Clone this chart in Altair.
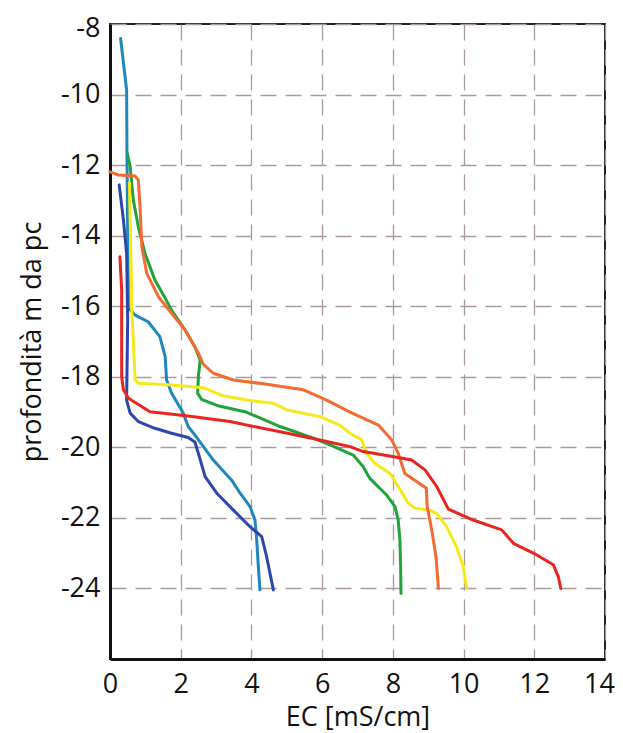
import altair as alt
import pandas as pd

# EC profiles: (EC [mS/cm], depth [m])
teal_x = [0.30, 0.47, 0.48, 0.52, 0.71, 1.08, 1.41, 1.56, 1.60, 1.74, 2.07, 2.21, 2.40, 2.92, 3.44, 3.68, 3.96, 4.10, 4.15, 4.19, 4.24]
teal_y = [-8.41, -9.87, -11.66, -16.05, -16.25, -16.44, -16.86, -17.43, -18.09, -18.46, -19.03, -19.41, -19.65, -20.36, -20.93, -21.30, -21.68, -22.06, -22.63, -23.29, -24.04]

blue_x = [0.26, 0.38, 0.47, 0.50, 0.47, 0.57, 0.80, 1.27, 1.74, 2.21, 2.40, 2.50, 2.69, 3.02, 3.49, 3.96, 4.29, 4.43, 4.62]
blue_y = [-12.56, -13.56, -14.50, -16.39, -18.66, -19.03, -19.27, -19.46, -19.60, -19.72, -19.85, -20.17, -20.83, -21.30, -21.78, -22.25, -22.53, -23.10, -24.04]

green_x = [0.49, 0.57, 0.66, 0.80, 0.99, 1.27, 1.55, 1.74, 2.12, 2.40, 2.55, 2.50, 2.48, 2.59, 3.08, 3.85, 4.81, 5.75, 6.22, 6.88, 7.16, 7.35, 7.82, 8.06, 8.15, 8.20, 8.22, 8.23]
green_y = [-11.67, -12.04, -12.99, -13.75, -14.50, -15.26, -15.75, -16.11, -16.67, -17.15, -17.52, -18.00, -18.47, -18.64, -18.83, -19.00, -19.41, -19.74, -19.93, -20.22, -20.55, -20.88, -21.35, -21.68, -22.06, -22.63, -23.38, -24.14]

yellow_x = [0.55, 0.57, 0.61, 0.61, 0.66, 0.71, 0.80, 1.74, 2.64, 3.20, 3.87, 4.62, 5.00, 5.94, 6.50, 6.79, 7.12, 7.26, 7.49, 7.92, 8.15, 8.44, 8.63, 9.05, 9.24, 9.52, 9.80, 9.99, 10.09]
yellow_y = [-12.50, -13.56, -15.45, -16.01, -16.96, -18.09, -18.18, -18.23, -18.31, -18.54, -18.66, -18.75, -18.94, -19.13, -19.37, -19.60, -19.79, -20.17, -20.45, -20.74, -21.11, -21.59, -21.73, -21.78, -21.87, -22.25, -22.82, -23.38, -24.00]

orange_x = [0.00, 0.24, 0.71, 0.80, 0.85, 0.90, 1.04, 1.37, 1.74, 2.12, 2.50, 2.64, 2.92, 3.49, 4.34, 5.47, 6.13, 6.79, 7.59, 7.97, 8.15, 8.34, 8.67, 8.95, 8.97, 9.10, 9.22, 9.29]
orange_y = [-12.19, -12.28, -12.31, -12.42, -13.18, -14.31, -15.07, -15.73, -16.20, -16.67, -17.33, -17.65, -17.90, -18.09, -18.20, -18.37, -18.66, -19.00, -19.37, -19.79, -20.17, -20.74, -20.97, -21.16, -21.68, -22.34, -23.10, -24.00]

red_x = [0.28, 0.33, 0.33, 0.38, 0.52, 1.13, 2.21, 3.39, 4.81, 5.94, 6.79, 7.16, 8.11, 8.53, 8.91, 9.24, 9.57, 10.27, 11.08, 11.41, 12.07, 12.54, 12.68, 12.75]
red_y = [-14.60, -15.54, -18.00, -18.37, -18.61, -18.99, -19.11, -19.27, -19.56, -19.79, -19.98, -20.12, -20.28, -20.36, -20.64, -21.11, -21.75, -22.06, -22.34, -22.72, -23.05, -23.33, -23.67, -24.00]

series = ["teal", "blue", "green", "yellow", "orange", "red"]
colors = ["#1f86bf", "#2b47ad", "#1fa33a", "#f7e81a", "#f26b30", "#e8251e"]
xs = [teal_x, blue_x, green_x, yellow_x, orange_x, red_x]
ys = [teal_y, blue_y, green_y, yellow_y, orange_y, red_y]

x_ticks = [0, 2, 4, 6, 8, 10, 12, 14]
y_ticks = [-8, -10, -12, -14, -16, -18, -20, -22, -24]

rows = []
for s, xv, yv in zip(series, xs, ys):
    for i, (a, b) in enumerate(zip(xv, yv)):
        rows.append({"s": s, "i": i, "ec": a, "depth": b})
df = pd.DataFrame(rows)

font = "Open Sans"
common = dict(grid=True, ticks=False, labelFontSize=27,
              titleFontSize=27, labelFlush=False, domainWidth=3,
              domainColor="#111111", labelFont=font, titleFont=font,
              labelColor="#111111", titleColor="#111111",
              titleFontWeight="normal", gridColor="#a89a98",
              gridDash=[16, 9], gridWidth=1.3,
              labelExpr="datum.value + ''")

chart = alt.Chart(df).mark_line(strokeWidth=3, strokeCap="round", strokeJoin="round").encode(
    x=alt.X("ec:Q", scale=alt.Scale(domain=[0, 14], nice=False),
            axis=alt.Axis(values=x_ticks, title="EC [mS/cm]", labelPadding=12,
                          titlePadding=7,
                          labelOffset={"condition": {"test": "datum.value == 14", "value": -6}, "value": 0},
                          **common)),
    y=alt.Y("depth:Q", scale=alt.Scale(domain=[-26, -8], nice=False, zero=False),
            axis=alt.Axis(values=y_ticks, title="profondità m da pc", labelPadding=10,
                          titlePadding=14,
                          labelOffset={"condition": {"test": "datum.value == -8", "value": 4}, "value": 0},
                          **common)),
    color=alt.Color("s:N", scale=alt.Scale(domain=series, range=colors), legend=None),
    order="i:Q",
).properties(
    width=495,
    height=635,
    autosize=alt.AutoSizeParams(type="none"),
    padding={"left": 102, "top": 16, "right": 10, "bottom": 78},
    background="white",
).configure_view(
    stroke="#222222",
    strokeWidth=2,
)

chart.save("out.html", embed_options={"renderer": "svg", "actions": False})
